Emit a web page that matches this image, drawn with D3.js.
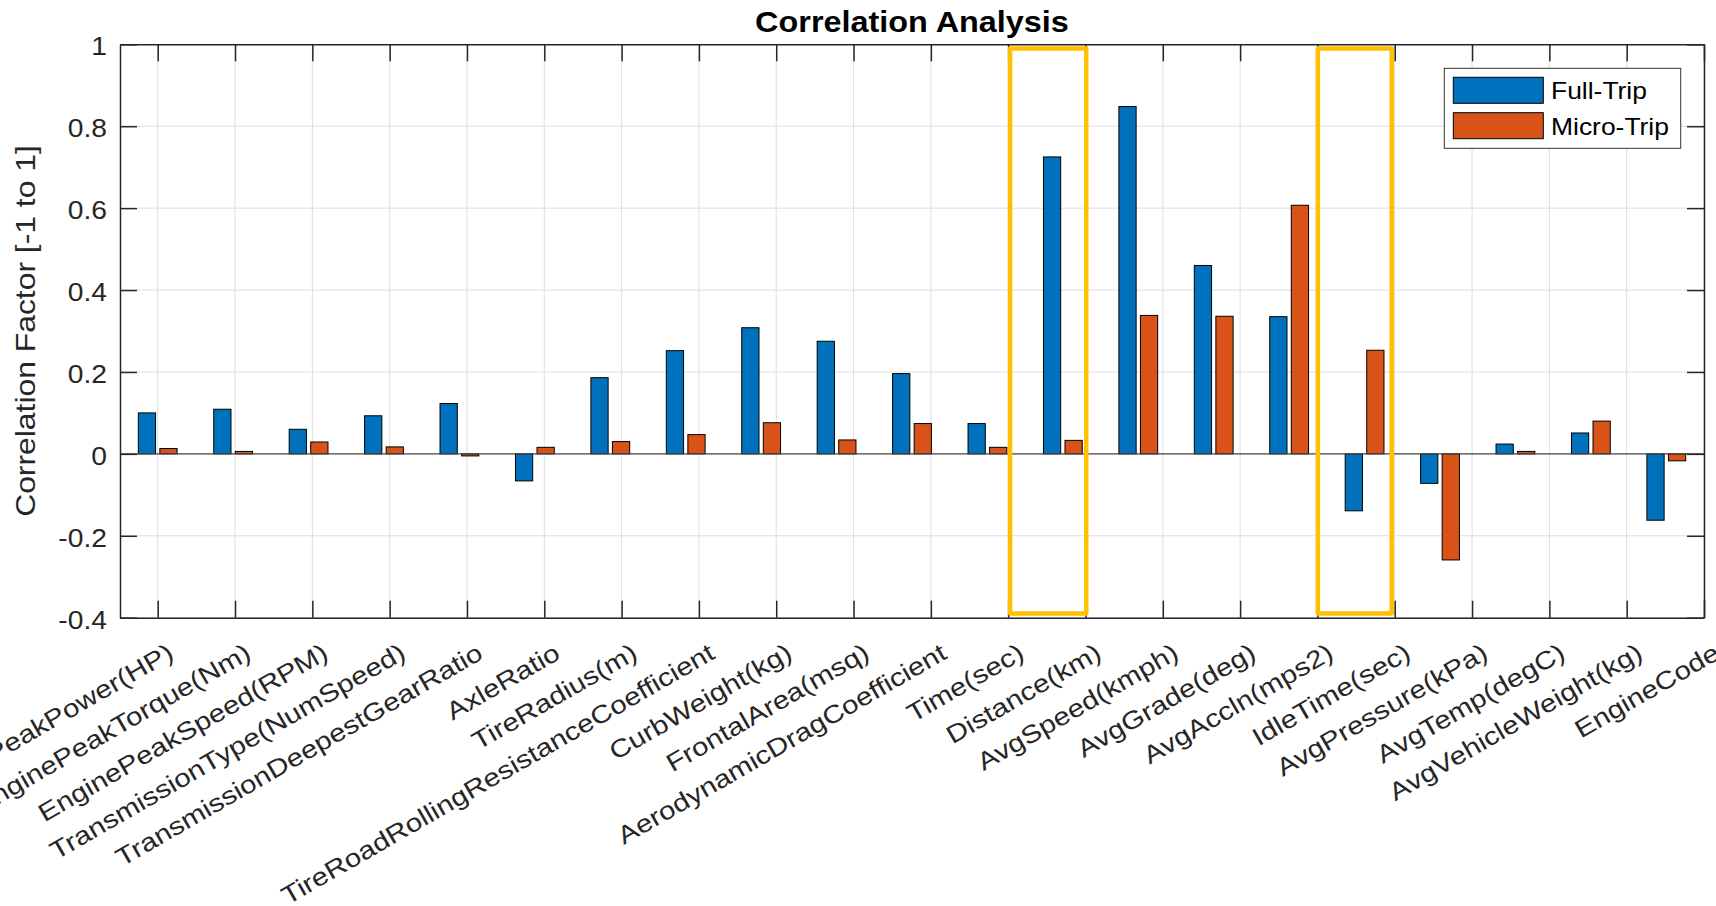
<!DOCTYPE html>
<html>
<head>
<meta charset="utf-8">
<script src="https://cdn.jsdelivr.net/npm/d3@7/dist/d3.min.js"></script>
<style>
  html, body { margin: 0; padding: 0; background: #fff; }
  svg { display: block; font-family: "Liberation Sans", Arial, Helvetica, sans-serif; }
</style>
</head>
<body>
<svg id="chart" width="1716" height="906"></svg>
<script>
// Predictor names along the x axis
const categories = [
  "EnginePeakPower(HP)", "EnginePeakTorque(Nm)", "EnginePeakSpeed(RPM)",
  "TransmissionType(NumSpeed)", "TransmissionDeepestGearRatio", "AxleRatio",
  "TireRadius(m)", "TireRoadRollingResistanceCoefficient", "CurbWeight(kg)",
  "FrontalArea(msq)", "AerodynamicDragCoefficient", "Time(sec)", "Distance(km)",
  "AvgSpeed(kmph)", "AvgGrade(deg)", "AvgAccln(mps2)", "IdleTime(sec)",
  "AvgPressure(kPa)", "AvgTemp(degC)", "AvgVehicleWeight(kg)", "EngineCode"
];

const seriesNames = ["Full-Trip", "Micro-Trip"];

// Correlation factors per predictor
const fullTrip = [
  0.100, 0.109, 0.060, 0.093, 0.123, -0.066, 0.186, 0.252, 0.308, 0.275, 0.196,
  0.074, 0.725, 0.848, 0.460, 0.335, -0.139, -0.072, 0.024, 0.051, -0.162
];
const microTrip = [
  0.013, 0.006, 0.029, 0.017, -0.005, 0.016, 0.030, 0.047, 0.076, 0.034, 0.074,
  0.016, 0.033, 0.338, 0.336, 0.607, 0.253, -0.259, 0.006, 0.080, -0.017
];

const yTickValues = [-0.4, -0.2, 0, 0.2, 0.4, 0.6, 0.8, 1];
const yTickLabels = ["-0.4", "-0.2", "0", "0.2", "0.4", "0.6", "0.8", "1"];

// Highlight rectangles, in axis units: [x from, x to] and shared [y from, y to]
const highlightX = [[12.3, 13.31], [16.38, 17.36]];
const highlightY = [-0.39, 0.99];

const colors = { "Full-Trip": "#0072BD", "Micro-Trip": "#D95319" };
const ink = "#262626";

const svg = d3.select("#chart");
svg.append("rect").attr("width", 1716).attr("height", 906).attr("fill", "#fff");

const plot = { left: 120, right: 1704, top: 44.3, bottom: 617.7 };

const x = d3.scaleLinear().domain([0.5, categories.length + 0.5]).range([plot.left, plot.right]);
const y = d3.scaleLinear().domain([-0.4, 1]).range([plot.bottom, plot.top]);

// Tick labels are spread evenly from the first group to the right edge
const xTickValues = d3.range(categories.length).map(k => 1 + k * (categories.length - 0.5) / (categories.length - 1));

// Grouped-bar layout inside each category slot
const sub = d3.scaleBand().domain(seriesNames).range([-0.2857, 0.2857]).paddingInner(0.2).paddingOuter(0.1);

// Grid
const grid = svg.append("g").attr("stroke", "#dedede").attr("stroke-width", 1);
grid.selectAll("line.gx").data(xTickValues).join("line")
  .attr("x1", d => x(d)).attr("x2", d => x(d))
  .attr("y1", plot.top).attr("y2", plot.bottom);
grid.selectAll("line.gy").data(yTickValues).join("line")
  .attr("x1", plot.left).attr("x2", plot.right)
  .attr("y1", d => y(d)).attr("y2", d => y(d));

// Bars
const rows = categories.map((c, i) => ({ i, c, values: [fullTrip[i], microTrip[i]] }));
const groups = svg.append("g").selectAll("g").data(rows).join("g");
groups.selectAll("rect")
  .data(r => seriesNames.map((s, k) => ({ s, i: r.i, v: r.values[k] })))
  .join("rect")
  .attr("x", d => x(d.i + 1 + sub(d.s)))
  .attr("width", x(sub.bandwidth()) - x(0))
  .attr("y", d => y(Math.max(0, d.v)))
  .attr("height", d => Math.abs(y(d.v) - y(0)))
  .attr("fill", d => colors[d.s])
  .attr("stroke", "#000")
  .attr("stroke-width", 1);

// Zero baseline
svg.append("line")
  .attr("x1", plot.left).attr("x2", plot.right)
  .attr("y1", y(0)).attr("y2", y(0))
  .attr("stroke", "#4a4a4a").attr("stroke-width", 1.3);

// Axes (ticks pointing inward on all four sides)
const tickLen = 17;
const axisStyle = g => {
  g.selectAll("path.domain").attr("stroke", ink).attr("stroke-width", 1.5);
  g.selectAll(".tick line").attr("stroke", ink).attr("stroke-width", 1.5);
};

const xAxis = svg.append("g").attr("transform", `translate(0,${plot.bottom})`)
  .call(d3.axisBottom(x).tickValues(xTickValues).tickSize(-tickLen).tickSizeOuter(0)
    .tickFormat((d, k) => categories[k]))
  .call(axisStyle);
xAxis.selectAll(".tick text")
  .attr("x", null).attr("y", null).attr("dy", null)
  .attr("text-anchor", "end")
  .attr("transform", "translate(17,40) rotate(-30) scale(1.18,1)")
  .attr("fill", ink).attr("font-size", 25).attr("font-family", null);

svg.append("g").attr("transform", `translate(0,${plot.top})`)
  .call(d3.axisTop(x).tickValues(xTickValues).tickSize(-tickLen).tickSizeOuter(0).tickFormat(""))
  .call(axisStyle);

const yAxis = svg.append("g").attr("transform", `translate(${plot.left},0)`)
  .call(d3.axisLeft(y).tickValues(yTickValues).tickSize(-tickLen).tickSizeOuter(0)
    .tickFormat((d, k) => yTickLabels[k]))
  .call(axisStyle);
yAxis.selectAll(".tick text")
  .attr("x", null).attr("dy", null)
  .attr("text-anchor", "end")
  .attr("transform", "translate(-13,10.5) scale(1.13,1)")
  .attr("fill", ink).attr("font-size", 25).attr("font-family", null);

svg.append("g").attr("transform", `translate(${plot.right},0)`)
  .call(d3.axisRight(y).tickValues(yTickValues).tickSize(-tickLen).tickSizeOuter(0).tickFormat(""))
  .call(axisStyle);

// Highlight rectangles
svg.append("g").selectAll("rect").data(highlightX).join("rect")
  .attr("x", d => x(d[0]))
  .attr("width", d => x(d[1]) - x(d[0]))
  .attr("y", y(highlightY[1]))
  .attr("height", y(highlightY[0]) - y(highlightY[1]))
  .attr("fill", "none")
  .attr("stroke", "#FFC000")
  .attr("stroke-width", 4.5)
  .attr("stroke-linejoin", "round");

// Title and y-axis label
svg.append("text")
  .attr("transform", `translate(${(plot.left + plot.right) / 2},32.3) scale(1.125,1)`)
  .attr("text-anchor", "middle")
  .attr("font-size", 28.8).attr("font-weight", "bold").attr("fill", "#000")
  .text("Correlation Analysis");

svg.append("text")
  .attr("transform", `translate(35,${(plot.top + plot.bottom) / 2}) rotate(-90) scale(1.18,1)`)
  .attr("text-anchor", "middle")
  .attr("font-size", 27).attr("fill", ink)
  .text("Correlation Factor [-1 to 1]");

// Legend
const legend = svg.append("g").attr("transform", "translate(1444.3,68.3)");
legend.append("rect")
  .attr("width", 236.4).attr("height", 80)
  .attr("fill", "#fff").attr("stroke", "#333").attr("stroke-width", 1);
const items = legend.selectAll("g.item").data(seriesNames).join("g")
  .attr("transform", (d, k) => `translate(9,${9 + k * 35.4})`);
items.append("rect")
  .attr("width", 90).attr("height", 26)
  .attr("fill", d => colors[d]).attr("stroke", "#000").attr("stroke-width", 1);
items.append("text")
  .attr("transform", "translate(97.7,22) scale(1.15,1)")
  .attr("font-size", 23).attr("fill", "#000")
  .text(d => d);
</script>
</body>
</html>
